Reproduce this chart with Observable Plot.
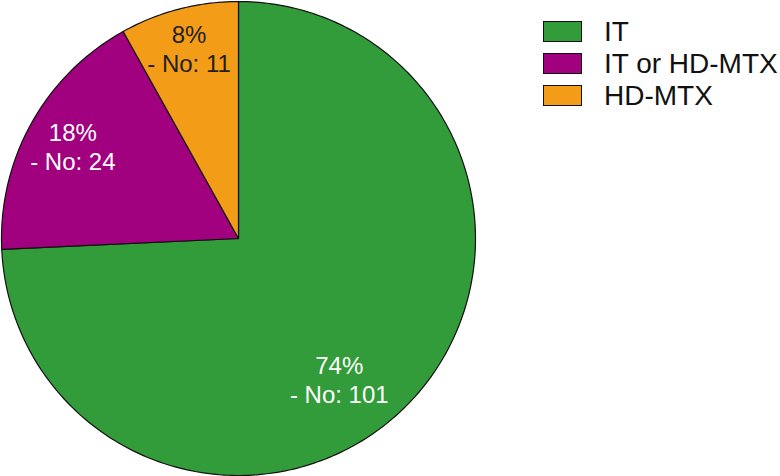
<!DOCTYPE html>
<html>
<head>
<meta charset="utf-8">
<script src="https://cdn.jsdelivr.net/npm/d3@7"></script>
<script src="https://cdn.jsdelivr.net/npm/@observablehq/plot@0.6"></script>
<style>
  html, body { margin: 0; padding: 0; background: #fff; }
  #wrap { position: relative; width: 780px; height: 476px; font-family: "Liberation Sans", Arial, Helvetica, sans-serif; }
  .lg-item { position: absolute; left: 543px; height: 32px; }
  .lg-sw { position: absolute; left: 0; width: 39px; height: 21px; box-sizing: border-box; border: 1px solid #111; }
  .lg-tx { position: absolute; left: 61px; top: -3px; font-size: 28px; line-height: 28px; color: #111; white-space: nowrap; }
</style>
</head>
<body>
<div id="wrap"></div>
<script>
// Data
const categories = ["IT", "IT or HD-MTX", "HD-MTX"];
const counts = [101, 24, 11];
const percents = ["74%", "18%", "8%"];
const colors = ["#329b3a", "#a1007f", "#f39c17"];
const labelColors = ["#ffffff", "#ffffff", "#231f20"];
// label placement (layout): fraction of slice angle, fraction of radius
const labelAngleFrac = [0.54, 0.5, 0.5];
const labelRadiusFrac = [0.73, 0.8, 0.83];

const total = d3.sum(counts);
// angles clockwise from 12 o'clock
let acc = 0;
const slices = categories.map((c, i) => {
  const a0 = acc / total * 2 * Math.PI;
  acc += counts[i];
  const a1 = acc / total * 2 * Math.PI;
  return {cat: c, a0, a1, i};
});

const pts = [];
for (const s of slices) {
  pts.push({cat: s.cat, x: 0, y: 0});
  const n = Math.max(4, Math.ceil((s.a1 - s.a0) / (Math.PI / 180)));
  for (let k = 0; k <= n; k++) {
    const a = s.a0 + (s.a1 - s.a0) * k / n;
    pts.push({cat: s.cat, x: Math.sin(a), y: Math.cos(a)});
  }
  pts.push({cat: s.cat, x: 0, y: 0});
}

const labels = slices.map(s => {
  const a = s.a0 + (s.a1 - s.a0) * labelAngleFrac[s.i];
  const r = labelRadiusFrac[s.i];
  return {x: r * Math.sin(a), y: r * Math.cos(a), text: percents[s.i] + "\n- No: " + counts[s.i], fill: labelColors[s.i]};
});

const chart = Plot.plot({
  width: 780,
  height: 476,
  margin: 0,
  style: {fontFamily: '"Liberation Sans", Arial, Helvetica, sans-serif', background: "transparent"},
  x: {domain: [-1, 1], range: [1, 475], axis: null},
  y: {domain: [-1, 1], range: [475, 1], axis: null},
  color: {domain: categories, range: colors},
  marks: [
    Plot.line(pts, {x: "x", y: "y", z: "cat", fill: "cat", stroke: "#111", strokeWidth: 1.2, curve: "linear", strokeLinejoin: "round"}),
    Plot.text(labels, {x: "x", y: "y", text: "text", fill: d => d.fill, fontSize: 24, lineHeight: 1.2, textAnchor: "middle"})
  ]
});

const wrap = document.getElementById("wrap");
wrap.appendChild(chart);
chart.style.position = "absolute";
chart.style.left = "0";
chart.style.top = "0";

categories.forEach((c, i) => {
  const item = document.createElement("div");
  item.className = "lg-item";
  item.style.top = (21 + i * 32) + "px";
  const sw = document.createElement("div");
  sw.className = "lg-sw";
  sw.style.background = colors[i];
  const tx = document.createElement("div");
  tx.className = "lg-tx";
  tx.textContent = c;
  item.appendChild(sw);
  item.appendChild(tx);
  wrap.appendChild(item);
});
</script>
</body>
</html>
